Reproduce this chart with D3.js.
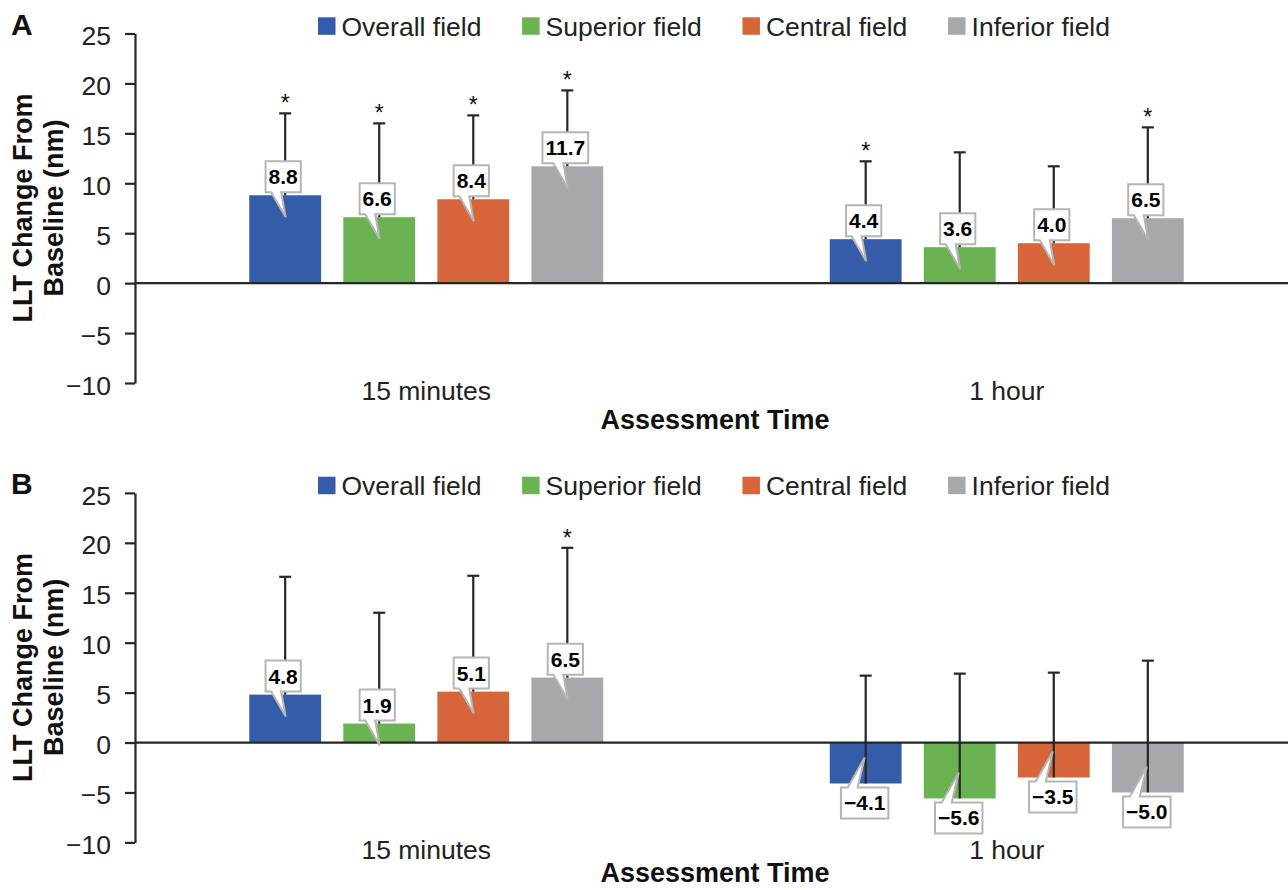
<!DOCTYPE html>
<html>
<head>
<meta charset="utf-8">
<script src="https://cdn.jsdelivr.net/npm/d3@7"></script>
<style>
  body { margin: 0; background: #fff; }
  svg { display: block; font-family: "Liberation Sans", Arial, sans-serif; }
  .tick text { font-size: 26.5px; fill: #222; }
</style>
</head>
<body>
<div id="chart"></div>
<script>
// categories and series
const times = ["15 minutes", "1 hour"];
const series = ["Overall field", "Superior field", "Central field", "Inferior field"];
const colors = ["#345ca8", "#6ab252", "#d6663a", "#a7a8ab"];
const yTicks = [25, 20, 15, 10, 5, 0, -5, -10];

// panel A: mean change, SD (upper bar only), significance
const meansA = [[8.8, 6.6, 8.4, 11.7], [4.4, 3.6, 4.0, 6.5]];
const sdA = [[8.2, 9.4, 8.4, 7.6], [7.8, 9.5, 7.7, 9.1]];
const starsA = [[1, 1, 1, 1], [1, 0, 0, 1]];

// panel B
const meansB = [[4.8, 1.9, 5.1, 6.5], [-4.1, -5.6, -3.5, -5.0]];
const sdB = [[11.8, 11.1, 11.6, 13.0], [10.8, 12.5, 10.5, 13.2]];
const starsB = [[0, 0, 0, 1], [0, 0, 0, 0]];

const W = 1288, H = 890;
const svg = d3.select("#chart").append("svg")
  .attr("width", W).attr("height", H);

const x0 = d3.scaleBand().domain(times).range([136, 1297]);
const x1 = d3.scaleBand().domain(series).range([-177, 177]).paddingInner(0.236);
const y = d3.scaleLinear().domain([-10, 25]).range([383, 33.5]);
const fmt = d3.format(".1f");
const ink = "#262626";

function drawPanel(top, letter, means, sds, stars, titleY) {
  const g = svg.append("g").attr("transform", `translate(0,${top})`);

  g.append("text").attr("x", 11).attr("y", 35)
    .style("font-size", "30px").style("font-weight", "bold").attr("fill", "#111")
    .text(letter);

  // legend
  const leg = g.append("g");
  const items = leg.selectAll("g").data(series).enter().append("g");
  items.append("rect").attr("width", 17.5).attr("height", 17.5).attr("y", 17.3)
    .attr("fill", (d, i) => colors[i]);
  items.append("text").attr("x", 23.5).attr("y", 35.5)
    .style("font-size", "26.5px").attr("fill", "#222").text(d => d);
  const widths = [];
  items.each(function() { widths.push(this.getBBox().width); });
  const gap = (1110 - 318 - d3.sum(widths)) / (series.length - 1);
  let cx = 318;
  items.attr("transform", (d, i) => {
    const t = `translate(${cx},0)`;
    cx += widths[i] + gap;
    return t;
  });

  // y axis
  const yAxis = d3.axisLeft(y).tickValues(yTicks).tickSize(10).tickSizeOuter(0).tickPadding(14);
  const ax = g.append("g").attr("transform", "translate(135,0)").call(yAxis);
  ax.selectAll("path, line").attr("stroke", ink).attr("stroke-width", 2.2);
  ax.selectAll("text").attr("dy", "0.42em");

  // y title
  const yt = g.append("text").attr("transform", `translate(0,208) rotate(-90)`)
    .attr("text-anchor", "middle").style("font-size", "27px").style("font-weight", "bold")
    .attr("fill", "#111");
  yt.append("tspan").attr("x", 0).attr("y", 32).text("LLT Change From");
  yt.append("tspan").attr("x", 0).attr("y", 63).text("Baseline (nm)");

  // category labels
  g.selectAll(".cat").data(times).enter().append("text")
    .attr("class", "cat")
    .attr("x", d => x0(d) + x0.bandwidth() / 2).attr("y", y(-10) + 17)
    .attr("text-anchor", "middle").style("font-size", "26.5px").attr("fill", "#222")
    .text(d => d);

  g.append("text").attr("x", 715).attr("y", titleY)
    .attr("text-anchor", "middle").style("font-size", "27px").style("font-weight", "bold")
    .attr("fill", "#111").text("Assessment Time");

  // flatten points
  const pts = [];
  times.forEach((t, ti) => series.forEach((s, si) => {
    pts.push({ t, s, si, v: means[ti][si], sd: sds[ti][si], star: stars[ti][si],
      cx: x0(t) + x0.bandwidth() / 2 + x1(s) + x1.bandwidth() / 2 });
  }));

  // bars
  g.selectAll(".bar").data(pts).enter().append("rect")
    .attr("x", d => x0(d.t) + x0.bandwidth() / 2 + x1(d.s))
    .attr("width", x1.bandwidth())
    .attr("y", d => y(Math.max(0, d.v)))
    .attr("height", d => Math.abs(y(d.v) - y(0)))
    .attr("fill", d => colors[d.si]);

  // zero line
  g.append("line").attr("x1", 135).attr("x2", W).attr("y1", y(0)).attr("y2", y(0))
    .attr("stroke", ink).attr("stroke-width", 2.2);

  // error bars (plus direction)
  const eb = g.selectAll(".err").data(pts).enter().append("g").attr("stroke", ink).attr("stroke-width", 2.2);
  eb.append("line").attr("x1", d => d.cx).attr("x2", d => d.cx)
    .attr("y1", d => y(d.v)).attr("y2", d => y(d.v + d.sd));
  eb.append("line").attr("x1", d => d.cx - 6).attr("x2", d => d.cx + 6)
    .attr("y1", d => y(d.v + d.sd)).attr("y2", d => y(d.v + d.sd));

  // significance stars
  g.selectAll(".star").data(pts.filter(d => d.star)).enter().append("text")
    .attr("x", d => d.cx).attr("y", d => y(d.v + d.sd) - 2)
    .attr("text-anchor", "middle").style("font-size", "23px").attr("fill", "#111")
    .text("*");

  // callout labels
  pts.forEach(d => {
    const c = g.append("g");
    const txt = c.append("text").attr("text-anchor", "middle")
      .style("font-size", "21px").style("font-weight", "bold").attr("fill", "#000")
      .text(fmt(d.v));
    const tw = txt.node().getComputedTextLength();
    const bw = tw + 6, bh = 31;
    let path, ty;
    if (d.v >= 0) {
      const bc = d.cx - 2;
      const bottom = y(d.v) - 3, topY = bottom - bh;
      const l = bc - bw / 2, r = bc + bw / 2;
      const tipY = y(d.v) + 22;
      path = `M${l},${topY}H${r}V${bottom}H${bc - 2}L${d.cx + 0.5},${tipY}L${bc - 12},${bottom}H${l}Z`;
      ty = topY + bh / 2;
    } else {
      const bc = d.cx - 1;
      const topY = y(d.v) + 4, bottom = topY + bh;
      const l = bc - bw / 2, r = bc + bw / 2;
      const tipY = y(d.v) - 26;
      path = `M${l},${topY}H${bc - 17}L${d.cx - 1},${tipY}L${bc - 7},${topY}H${r}V${bottom}H${l}Z`;
      ty = topY + bh / 2;
    }
    c.insert("path", "text").attr("d", path).attr("fill", "#fff")
      .attr("stroke", "#b5b5b5").attr("stroke-width", 2).attr("stroke-linejoin", "miter");
    txt.attr("x", d.v >= 0 ? d.cx - 2 : d.cx - 1).attr("y", ty + 7.5);
  });
}

drawPanel(0, "A", meansA, sdA, starsA, 429);
drawPanel(459.4, "B", meansB, sdB, starsB, 423);
</script>
</body>
</html>
